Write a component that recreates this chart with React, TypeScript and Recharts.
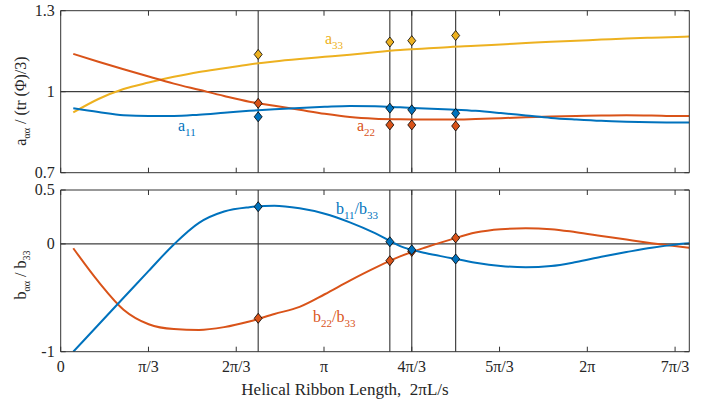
import { ComposedChart, Line, Scatter, XAxis, YAxis, ReferenceLine } from "recharts";

const PI = Math.PI;

// shared x grid (radians of 2πL/s)
const xs = [0.15, 0.45, 0.75, 1.05, 1.35, 1.65, 1.95, 2.25, 2.55, 2.85, 3.15, 3.45, 3.75, 4.05, 4.35, 4.65, 4.95, 5.25, 5.55, 5.85, 6.15, 6.45, 6.75, 7.05, 7.35, 7.5];

// top panel: a_aa / (tr(Phi)/3)
const a11 = [0.939, 0.925, 0.913, 0.91, 0.91, 0.915, 0.922, 0.929, 0.935, 0.94, 0.944, 0.947, 0.946, 0.942, 0.938, 0.934, 0.929, 0.921, 0.912, 0.903, 0.897, 0.892, 0.889, 0.887, 0.886, 0.886];
const a22 = [1.14, 1.111, 1.083, 1.056, 1.03, 1.007, 0.984, 0.963, 0.948, 0.933, 0.918, 0.906, 0.9, 0.898, 0.897, 0.897, 0.899, 0.902, 0.905, 0.908, 0.91, 0.912, 0.913, 0.912, 0.91, 0.91];
const a33 = [0.923, 0.973, 1.01, 1.034, 1.055, 1.073, 1.087, 1.101, 1.112, 1.121, 1.129, 1.137, 1.146, 1.154, 1.16, 1.166, 1.17, 1.175, 1.18, 1.185, 1.189, 1.193, 1.197, 1.2, 1.203, 1.204];

// bottom panel: b_aa / b_33
const b11 = [-1.0, -0.75, -0.5, -0.25, -0.005, 0.195, 0.3, 0.34, 0.354, 0.33, 0.28, 0.2, 0.1, -0.02, -0.085, -0.13, -0.175, -0.205, -0.216, -0.205, -0.168, -0.12, -0.076, -0.035, -0.005, 0.005];
const b22 = [-0.04, -0.35, -0.61, -0.745, -0.79, -0.798, -0.772, -0.72, -0.65, -0.584, -0.467, -0.34, -0.222, -0.116, -0.033, 0.04, 0.105, 0.136, 0.145, 0.137, 0.108, 0.074, 0.04, 0.007, -0.022, -0.035];

// marked lengths and their values
const markX = [3 * PI / 4, 5 * PI / 4, 4 * PI / 3, 3 * PI / 2];
const markA11 = [0.907, 0.939, 0.933, 0.92];
const markA22 = [0.957, 0.877, 0.877, 0.873];
const markA33 = [1.138, 1.184, 1.189, 1.208];
const markB11 = [0.345, 0.02, -0.055, -0.14];
const markB22 = [-0.69, -0.156, -0.07, 0.055];

const xTicks = [0, PI / 3, 2 * PI / 3, PI, 4 * PI / 3, 5 * PI / 3, 2 * PI, 7 * PI / 3];
const xTickLabels = ["0", "π/3", "2π/3", "π", "4π/3", "5π/3", "2π", "7π/3"];
const topTicks = [0.7, 1, 1.3];
const topTickLabels = ["0.7", "1", "1.3"];
const botTicks = [-1, 0, 0.5];
const botTickLabels = ["-1", "0", "0.5"];

const BLUE = "#0072BD";
const RED = "#D95319";
const YELLOW = "#EDB120";
const AXIS = "#333";
const TXT = "#262626";
const FONT = "'Liberation Serif', 'Times New Roman', serif";
const serif = { fontFamily: FONT };

const topData = xs.map((x, i) => ({ x, a11: a11[i], a22: a22[i], a33: a33[i] }));
const botData = xs.map((x, i) => ({ x, b11: b11[i], b22: b22[i] }));
const pts = (ys: number[]) => markX.map((x, i) => ({ x, y: ys[i] }));

const labelFor = (v: number, ticks: number[], labels: string[]) => {
  const i = ticks.findIndex((t) => Math.abs(t - v) < 1e-6);
  return i >= 0 ? labels[i] : "";
};

const Diamond = (props: any) => {
  const { cx, cy, fill } = props;
  if (cx == null || cy == null) return null;
  return (
    <polygon
      points={`${cx},${cy - 5} ${cx + 4},${cy} ${cx},${cy + 5} ${cx - 4},${cy}`}
      fill={fill}
      stroke="#000"
      strokeWidth={0.8}
    />
  );
};

const BottomTick = (props: any) => {
  const { x, y, payload, showLabel } = props;
  return (
    <g>
      <line x1={x} x2={x} y1={y} y2={y - 5} stroke={AXIS} />
      {showLabel && (
        <text x={x} y={y + 20} textAnchor="middle" fontSize={16} style={serif} fill={TXT}>
          {labelFor(payload.value, xTicks, xTickLabels)}
        </text>
      )}
    </g>
  );
};

const TopTick = ({ x, y }: any) => <line x1={x} x2={x} y1={y} y2={y + 5} stroke={AXIS} />;

const LeftTick = (props: any) => {
  const { x, y, payload, ticks, labels } = props;
  return (
    <g>
      <line x1={x} x2={x + 5} y1={y} y2={y} stroke={AXIS} />
      <text x={x - 6} y={y + 5} textAnchor="end" fontSize={16} style={serif} fill={TXT}>
        {labelFor(payload.value, ticks, labels)}
      </text>
    </g>
  );
};

const RightTick = ({ x, y }: any) => <line x1={x - 5} x2={x} y1={y} y2={y} stroke={AXIS} />;

function Frame({ yTicks, yLabels, domain, showX }: any) {
  return [
    <XAxis
      key="xb"
      dataKey="x"
      type="number"
      domain={[0, 7.5]}
      ticks={xTicks}
      interval={0}
      height={1}
      tickSize={0}
      tickMargin={0}
      tickLine={false}
      stroke={AXIS}
      allowDataOverflow
      tick={(p: any) => <BottomTick {...p} showLabel={showX} />}
    />,
    <XAxis
      key="xt"
      xAxisId="top"
      orientation="top"
      dataKey="x"
      type="number"
      domain={[0, 7.5]}
      ticks={xTicks}
      interval={0}
      height={1}
      tickSize={0}
      tickMargin={0}
      tickLine={false}
      stroke={AXIS}
      allowDataOverflow
      tick={(p: any) => <TopTick {...p} />}
    />,
    <YAxis
      key="yl"
      type="number"
      domain={domain}
      ticks={yTicks}
      interval={0}
      width={60.7}
      tickSize={0}
      tickMargin={0}
      tickLine={false}
      stroke={AXIS}
      allowDataOverflow
      tick={(p: any) => <LeftTick {...p} ticks={yTicks} labels={yLabels} />}
    />,
    <YAxis
      key="yr"
      yAxisId="r"
      orientation="right"
      type="number"
      domain={domain}
      ticks={yTicks}
      interval={0}
      width={1}
      tickSize={0}
      tickMargin={0}
      tickLine={false}
      stroke={AXIS}
      allowDataOverflow
      tick={(p: any) => <RightTick {...p} />}
    />,
  ];
}

const refLines = (baseY: number) => [
  <ReferenceLine key="h" y={baseY} stroke="#111" strokeWidth={1} />,
  ...markX.map((x) => <ReferenceLine key={x} x={x} stroke="#333" strokeWidth={1.1} />),
];

export default function App() {
  return (
    <div style={{ position: "absolute", left: 0, top: 0, width: 707, height: 400, background: "#fff", fontFamily: FONT }}>
      <div style={{ position: "absolute", left: 0, top: 0 }}>
        <ComposedChart width={707} height={185} data={topData} margin={{ top: 9.7, right: 16.7, bottom: 11.3, left: 0 }}>
          {Frame({ yTicks: topTicks, yLabels: topTickLabels, domain: [0.7, 1.3], showX: false })}
          {refLines(1)}
          <Line type="monotone" dataKey="a33" stroke={YELLOW} strokeWidth={2} dot={false} isAnimationActive={false} />
          <Line type="monotone" dataKey="a22" stroke={RED} strokeWidth={2} dot={false} isAnimationActive={false} />
          <Line type="monotone" dataKey="a11" stroke={BLUE} strokeWidth={2} dot={false} isAnimationActive={false} />
          <Scatter data={pts(markA33)} dataKey="y" fill={YELLOW} shape={<Diamond />} isAnimationActive={false} />
          <Scatter data={pts(markA22)} dataKey="y" fill={RED} shape={<Diamond />} isAnimationActive={false} />
          <Scatter data={pts(markA11)} dataKey="y" fill={BLUE} shape={<Diamond />} isAnimationActive={false} />
        </ComposedChart>
      </div>
      <div style={{ position: "absolute", left: 0, top: 180 }}>
        <ComposedChart width={707} height={220} data={botData} margin={{ top: 9, right: 16.7, bottom: 47.3, left: 0 }}>
          {Frame({ yTicks: botTicks, yLabels: botTickLabels, domain: [-1, 0.5], showX: true })}
          {refLines(0)}
          <Line type="monotone" dataKey="b22" stroke={RED} strokeWidth={2} dot={false} isAnimationActive={false} />
          <Line type="monotone" dataKey="b11" stroke={BLUE} strokeWidth={2} dot={false} isAnimationActive={false} />
          <Scatter data={pts(markB22)} dataKey="y" fill={RED} shape={<Diamond />} isAnimationActive={false} />
          <Scatter data={pts(markB11)} dataKey="y" fill={BLUE} shape={<Diamond />} isAnimationActive={false} />
        </ComposedChart>
      </div>

      {/* labels and curve annotations */}
      <svg width={707} height={400} style={{ position: "absolute", left: 0, top: 0, pointerEvents: "none", fontFamily: FONT }}>
        <text transform="translate(26,101) rotate(-90)" textAnchor="middle" fontSize={16} fill={TXT} style={serif}>
          <tspan>a</tspan>
          <tspan dy={4} fontSize={10}>αα</tspan>
          <tspan dy={-4}> / (tr (Φ)/3)</tspan>
        </text>
        <text transform="translate(26,275) rotate(-90)" textAnchor="middle" fontSize={16} fill={TXT} style={serif}>
          <tspan>b</tspan>
          <tspan dy={4} fontSize={10}>αα</tspan>
          <tspan dy={-4}> / b</tspan>
          <tspan dy={4} fontSize={10}>33</tspan>
        </text>
        <text x={345} y={395} textAnchor="middle" fontSize={17} fill={TXT} style={serif}>
          {"Helical Ribbon Length,\u00A0 2πL/s"}
        </text>

        <text x={325} y={44} fontSize={16} fill={YELLOW} style={serif}>
          <tspan>a</tspan>
          <tspan dy={5} fontSize={11}>33</tspan>
        </text>
        <text x={178} y={131} fontSize={16} fill={BLUE} style={serif}>
          <tspan>a</tspan>
          <tspan dy={5} fontSize={11}>11</tspan>
        </text>
        <text x={357} y={131} fontSize={16} fill={RED} style={serif}>
          <tspan>a</tspan>
          <tspan dy={5} fontSize={11}>22</tspan>
        </text>
        <text x={336} y={214} fontSize={16} fill={BLUE} style={serif}>
          <tspan>b</tspan>
          <tspan dy={5} fontSize={11}>11</tspan>
          <tspan dy={-5}>/b</tspan>
          <tspan dy={5} fontSize={11}>33</tspan>
        </text>
        <text x={313} y={322} fontSize={16} fill={RED} style={serif}>
          <tspan>b</tspan>
          <tspan dy={5} fontSize={11}>22</tspan>
          <tspan dy={-5}>/b</tspan>
          <tspan dy={5} fontSize={11}>33</tspan>
        </text>
      </svg>
    </div>
  );
}
